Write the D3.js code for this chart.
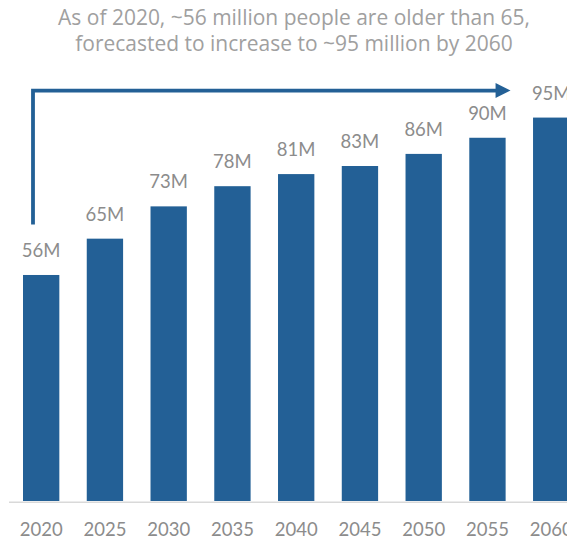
<!DOCTYPE html>
<html>
<head>
<meta charset="utf-8">
<script src="https://cdn.jsdelivr.net/npm/d3@7"></script>
<style>
  html, body { margin: 0; padding: 0; background: #fff; }
  svg { display: block; }
</style>
</head>
<body>
<svg id="chart" width="567" height="541"></svg>
<script>
const categories = ["2020", "2025", "2030", "2035", "2040", "2045", "2050", "2055", "2060"];
const values = [56, 65, 73, 78, 81, 83, 86, 90, 95];
const valueLabels = ["56M", "65M", "73M", "78M", "81M", "83M", "86M", "90M", "95M"];
const titleLines = ["As of 2020, ~56 million people are older than 65,", "forecasted to increase to ~95 million by 2060"];

const W = 567, H = 541;
const svg = d3.select("#chart");
const barColor = "#236096";
const font = "Lato, 'Open Sans', sans-serif";
const titleFont = "'Open Sans', Lato, sans-serif";

const x = d3.scaleBand().domain(categories).range([23, 23 + 8 * 63.76 + 36.3]).paddingInner(0.43).paddingOuter(0);
const y = d3.scaleLinear().domain([0, 100]).range([501, 501 - 403.6]);

// title
const title = svg.append("g").selectAll("text").data(titleLines).join("text")
  .attr("x", 294).attr("y", (d, i) => 25 + i * 26)
  .attr("text-anchor", "middle")
  .attr("font-family", titleFont).attr("font-size", 19)
  .attr("fill", "#a0a0a0")
  .text(d => d);
// fit first line width to ~472px
const w0 = title.nodes()[0].getComputedTextLength();
if (w0 > 0) {
  const fs = Math.max(16, Math.min(22, 19 * 472 / w0));
  title.attr("font-size", fs);
}

// baseline
svg.append("line")
  .attr("x1", 9).attr("x2", W).attr("y1", y(0) + 1.2).attr("y2", y(0) + 1.2)
  .attr("stroke", "#d9d9d9").attr("stroke-width", 1.5);

// bars
svg.append("g").selectAll("rect").data(values).join("rect")
  .attr("x", (d, i) => x(categories[i]))
  .attr("width", x.bandwidth())
  .attr("y", d => y(d))
  .attr("height", d => y(0) - y(d))
  .attr("fill", barColor);

// value labels
svg.append("g").selectAll("text").data(values).join("text")
  .attr("x", (d, i) => x(categories[i]) + x.bandwidth() / 2)
  .attr("y", d => y(d) - 18)
  .attr("text-anchor", "middle")
  .attr("font-family", font).attr("font-size", 18.5)
  .attr("fill", "#8c8c8c")
  .text((d, i) => valueLabels[i]);

// x axis labels
svg.append("g").selectAll("text").data(categories).join("text")
  .attr("x", d => x(d) + x.bandwidth() / 2)
  .attr("y", 535.5)
  .attr("text-anchor", "middle")
  .attr("font-family", font).attr("font-size", 18.5)
  .attr("fill", "#8c8c8c")
  .text(d => d);

// arrow annotation
const ax = x(categories[0]) + 10;
const ayBottom = y(68.5);
const ayTop = y(101.7);
const tipX = x(categories[categories.length - 1]) - 22.5;
const headLen = 15, headHalf = 7.5;
svg.append("path")
  .attr("d", `M${ax},${ayBottom} V${ayTop} H${tipX - headLen + 1}`)
  .attr("fill", "none").attr("stroke", barColor).attr("stroke-width", 3.8)
  .attr("stroke-linejoin", "miter");
svg.append("path")
  .attr("d", `M${tipX - headLen},${ayTop - headHalf} L${tipX},${ayTop} L${tipX - headLen},${ayTop + headHalf} Z`)
  .attr("fill", barColor);
</script>
</body>
</html>
